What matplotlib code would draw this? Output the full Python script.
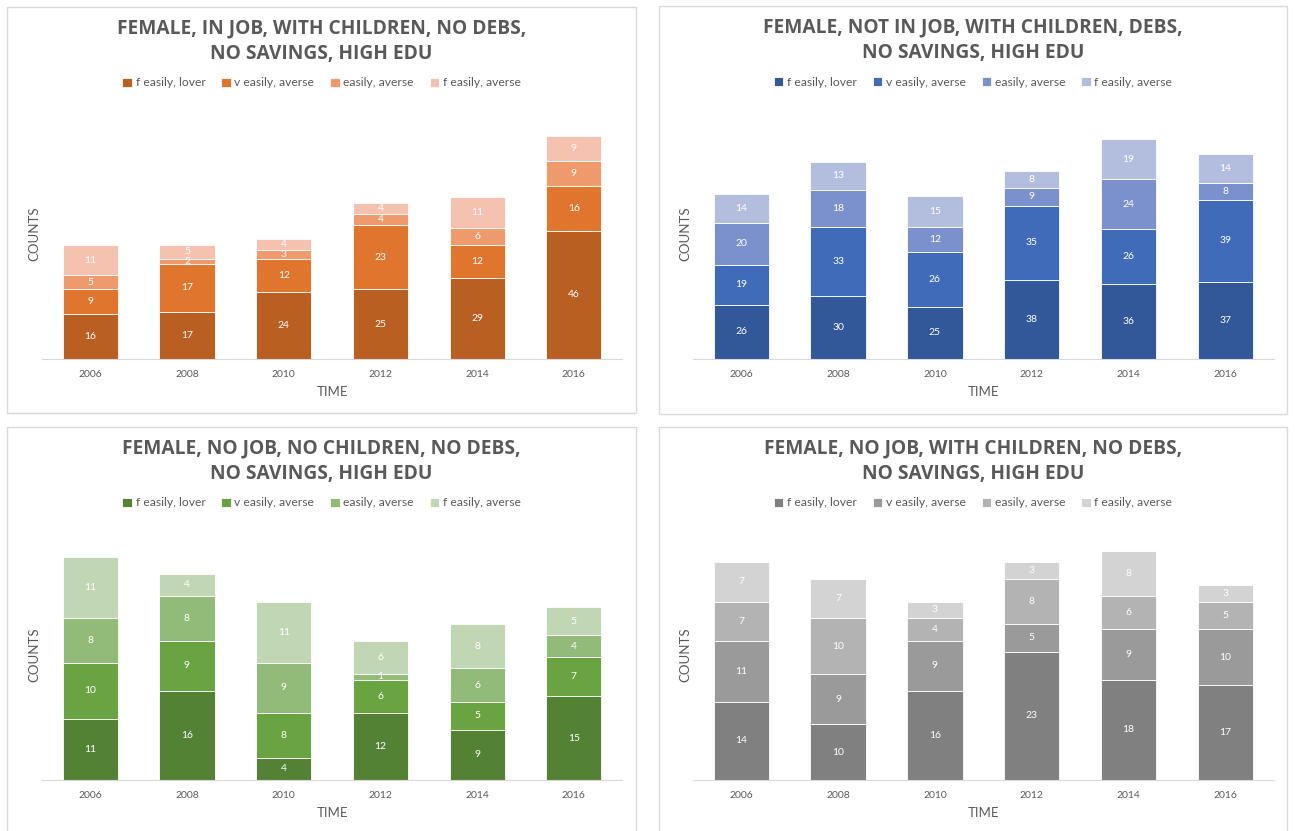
import numpy as np
import matplotlib.pyplot as plt
from matplotlib.patches import Rectangle

plt.rcParams['font.family'] = ['Lato', 'DejaVu Sans']

years = ['2006', '2008', '2010', '2012', '2014', '2016']
series_names = ['f easily, lover', 'v easily, averse', 'easily, averse', 'f easily, averse']

# 数据 (从图里读出来的)
job_children_lover = [16, 17, 24, 25, 29, 46]
job_children_veasy = [9, 17, 12, 23, 12, 16]
job_children_easy = [5, 2, 3, 4, 6, 9]
job_children_feasy = [11, 5, 4, 4, 11, 9]

notjob_debs_lover = [26, 30, 25, 38, 36, 37]
notjob_debs_veasy = [19, 33, 26, 35, 26, 39]
notjob_debs_easy = [20, 18, 12, 9, 24, 8]
notjob_debs_feasy = [14, 13, 15, 8, 19, 14]

nojob_nochild_lover = [11, 16, 4, 12, 9, 15]
nojob_nochild_veasy = [10, 9, 8, 6, 5, 7]
nojob_nochild_easy = [8, 8, 9, 1, 6, 4]
nojob_nochild_feasy = [11, 4, 11, 6, 8, 5]

nojob_child_lover = [14, 10, 16, 23, 18, 17]
nojob_child_veasy = [11, 9, 9, 5, 9, 10]
nojob_child_easy = [7, 10, 4, 8, 6, 5]
nojob_child_feasy = [7, 7, 3, 3, 8, 3]

titles = ['FEMALE, IN JOB, WITH CHILDREN, NO DEBS,\nNO SAVINGS, HIGH EDU',
          'FEMALE, NOT IN JOB, WITH CHILDREN, DEBS,\nNO SAVINGS, HIGH EDU',
          'FEMALE, NO JOB, NO CHILDREN, NO DEBS,\nNO SAVINGS, HIGH EDU',
          'FEMALE, NO JOB, WITH CHILDREN, NO DEBS,\nNO SAVINGS, HIGH EDU']

panels = [[job_children_lover, job_children_veasy, job_children_easy, job_children_feasy],
          [notjob_debs_lover, notjob_debs_veasy, notjob_debs_easy, notjob_debs_feasy],
          [nojob_nochild_lover, nojob_nochild_veasy, nojob_nochild_easy, nojob_nochild_feasy],
          [nojob_child_lover, nojob_child_veasy, nojob_child_easy, nojob_child_feasy]]

colors = [['#B95F22', '#E0752E', '#EF9A6C', '#F5C2AF'],
          ['#32589A', '#3F6BB8', '#7A91CE', '#B3BEDF'],
          ['#548235', '#6AA342', '#92BA78', '#C1D7B3'],
          ['#808080', '#9A9A9A', '#B3B3B3', '#D3D3D3']]

ymax = [90, 120, 45, 45]

# 每个子图的位置 (figure 坐标)
ax_pos = [[0.0324, 0.568, 0.448, 0.302],
          [0.535, 0.568, 0.4487, 0.302],
          [0.0324, 0.0614, 0.448, 0.302],
          [0.535, 0.0614, 0.4487, 0.302]]
box_pos = [[7, 7, 636, 413], [659, 6, 1287, 414], [7, 427, 636, 840], [659, 427, 1287, 840]]

W, H = 1295, 831
fig = plt.figure(figsize=(W / 100, H / 100), dpi=100)
gray = '#595959'

for i in range(4):
    # 外框
    x0, y0, x1, y1 = box_pos[i]
    fig.patches.append(Rectangle((x0 / W, 1 - y1 / H), (x1 - x0) / W, (y1 - y0) / H,
                                 transform=fig.transFigure, fill=False,
                                 edgecolor='#D9D9D9', linewidth=1))
    ax = fig.add_axes(ax_pos[i])
    x = np.arange(len(years))
    bottom = np.zeros(len(years))
    handles = []
    for j in range(4):
        vals = np.array(panels[i][j])
        b = ax.bar(x, vals, 0.57, bottom=bottom, color=colors[i][j],
                   edgecolor='white', linewidth=0.6, label=series_names[j])
        handles.append(b)
        for k in range(len(years)):
            ax.text(x[k], bottom[k] + vals[k] / 2, str(vals[k]), ha='center', va='center',
                    color='white', fontsize=7.5)
        bottom = bottom + vals
    ax.set_xlim(-0.5, 5.5)
    ax.set_ylim(0, ymax[i])
    ax.set_xticks(x)
    ax.set_xticklabels(years, fontsize=7.5, color=gray)
    ax.tick_params(axis='x', length=0, pad=8)
    ax.set_yticks([])
    for s in ['top', 'right', 'left']:
        ax.spines[s].set_visible(False)
    ax.spines['bottom'].set_color('#D9D9D9')
    ax.set_xlabel('TIME', fontsize=9.5, color=gray, labelpad=5)
    ax.set_ylabel('COUNTS', fontsize=9.5, color=gray, labelpad=1)

    cx = (x0 + x1) / 2 / W
    fig.text(cx, 1 - (y0 + 34) / H, titles[i], ha='center', va='center',
             fontsize=13.8, fontweight='bold', color=gray, linespacing=1.4,
             family=['Open Sans', 'DejaVu Sans'])
    fig.legend(handles=handles, loc='center', bbox_to_anchor=(cx, 1 - (y0 + 76) / H),
               ncol=4, frameon=False, fontsize=8.7, labelcolor=gray,
               handlelength=0.8, handleheight=0.8, handletextpad=0.3, columnspacing=1.3)

plt.savefig('out.png', dpi=100)
